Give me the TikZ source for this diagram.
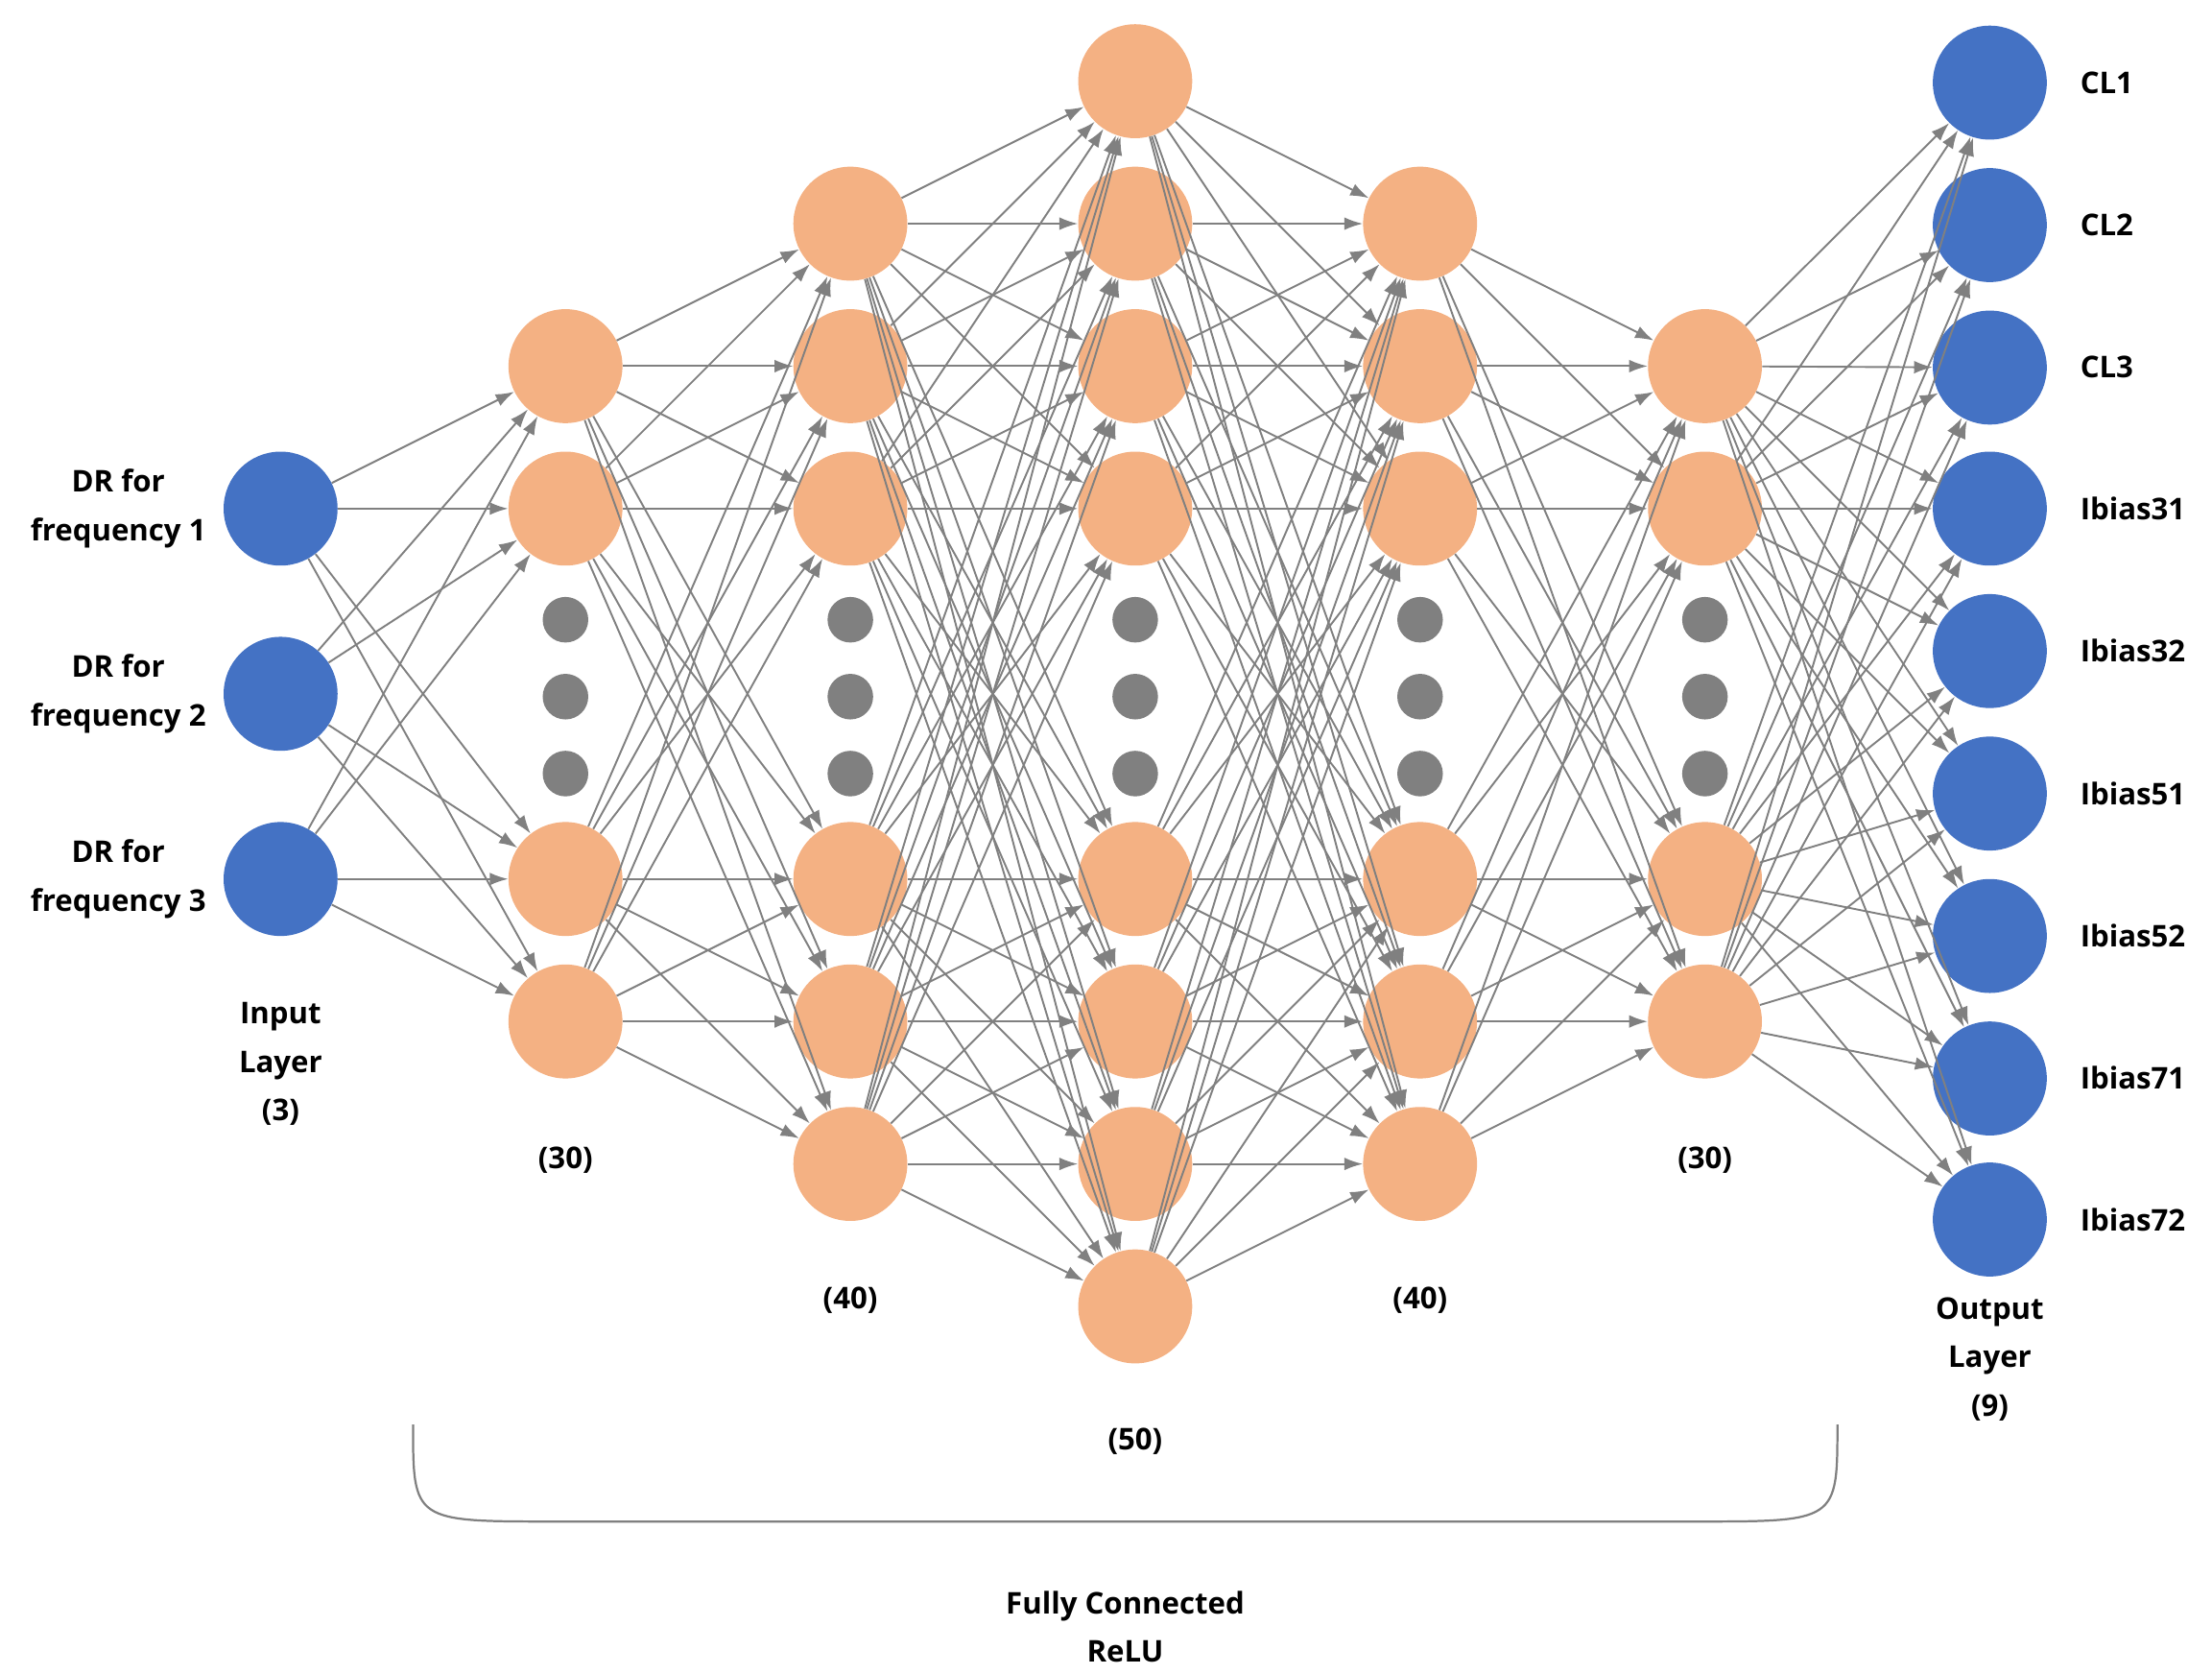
\documentclass[tikz,border=0pt]{standalone}
\usepackage{fontspec}
\setmainfont{Open Sans}
\usetikzlibrary{arrows.meta}
\definecolor{orng}{HTML}{F4B183}
\definecolor{blu}{HTML}{4472C4}
\definecolor{edg}{RGB}{128,128,128}
\begin{document}
\begin{tikzpicture}[x=1pt,y=-1pt,
  neu/.style={circle,fill=orng,minimum size=80pt,inner sep=0pt},
  io/.style={circle,fill=blu,minimum size=80pt,inner sep=0pt},
  dot/.style={circle,fill=edg,minimum size=32pt,inner sep=0pt},
  lab/.style={font=\fontsize{21}{34}\selectfont\bfseries,align=center},
  con/.style={draw=edg,line width=1.3pt,-{Latex[length=13pt,width=9pt]}}]
\useasboundingbox (0,0) rectangle (1553,1175);
% input
\foreach \y [count=\i] in {357,487,617} \node[io] (a\i) at (197,\y) {};
\foreach \y [count=\i] in {257,357,617,717} {\node[neu] (b\i) at (397,\y) {}; \node[neu] (f\i) at (1197,\y) {};}
\foreach \y [count=\i] in {157,257,357,617,717,817} {\node[neu] (c\i) at (597,\y) {}; \node[neu] (e\i) at (997,\y) {};}
\foreach \y [count=\i] in {57,157,257,357,617,717,817,917} \node[neu] (d\i) at (797,\y) {};
\foreach \y [count=\i] in {58,158,258,357,457,557,657,757,856} \node[io] (g\i) at (1397,\y) {};
\foreach \x in {397,597,797,997,1197} \foreach \y [count=\k] in {435,489,543} \node[dot] (dt\x-\k) at (\x,\y) {};
% edges
\foreach \i in {1,2,3} \foreach \j in {1,...,4} \draw[con] (a\i) -- (b\j);
\foreach \i in {1,...,4} \foreach \j in {1,...,6} \draw[con] (b\i) -- (c\j);
\foreach \i in {1,...,6} \foreach \j in {1,...,8} \draw[con] (c\i) -- (d\j);
\foreach \i in {1,...,8} \foreach \j in {1,...,6} \draw[con] (d\i) -- (e\j);
\foreach \i in {1,...,6} \foreach \j in {1,...,4} \draw[con] (e\i) -- (f\j);
\foreach \i in {1,...,4} \foreach \j in {1,...,9} \draw[con] (f\i) -- (g\j);
% labels
\node[lab] (l1) at (83,357) {DR for\\frequency 1};
\node[lab] (l2) at (83,487) {DR for\\frequency 2};
\node[lab] (l3) at (83,617) {DR for\\frequency 3};
\foreach \t [count=\i] in {CL1,CL2,CL3,Ibias31,Ibias32,Ibias51,Ibias52,Ibias71,Ibias72}
  \node[lab,anchor=west] (o\i) at (1457,{58+99.75*(\i-1)}) {\t};
\node[lab] (il) at (197,747) {Input\\Layer\\(3)};
\node[lab] (n1) at (397,814) {(30)};
\node[lab] (n2) at (597,913) {(40)};
\node[lab] (n3) at (797,1012) {(50)};
\node[lab] (n4) at (997,913) {(40)};
\node[lab] (n5) at (1197,814) {(30)};
\node[lab] (ol) at (1397,954) {Output\\Layer\\(9)};
\node[lab] (fc) at (790,1142) {Fully Connected\\ReLU};
\draw[edg,line width=1.5pt] (290,1000) .. controls (290,1068) .. (390,1068) -- (1190,1068) .. controls (1290,1068) .. (1290,1000);
\end{tikzpicture}
\end{document}
